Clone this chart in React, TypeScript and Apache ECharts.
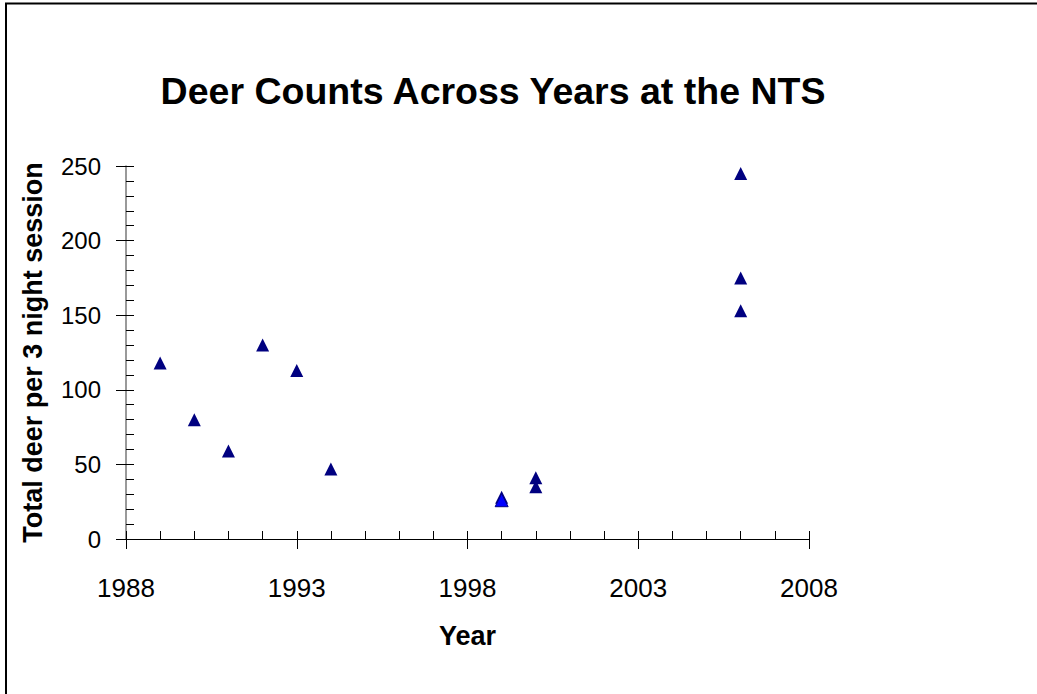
import React, { useEffect, useRef } from "react";
import * as echarts from "echarts";

const titleText = "Deer Counts Across Years at the NTS";
const xName = "Year";
const yName = "Total deer per 3 night session";

// main series (navy triangles)
const years = [1989, 1990, 1991, 1992, 1993, 1994, 1999, 2000, 2000, 2006, 2006, 2006];
const counts = [118, 80, 59, 130, 113, 47, 28, 41, 35, 245, 175, 153];

// second series (bright blue triangle)
const years2 = [1999];
const counts2 = [26];

const xMin = 1988;
const xMax = 2008;
const xStep = 5;
const yMin = 0;
const yMax = 250;
const yStep = 50;

const FONT = "'Liberation Sans', Arial, sans-serif";

export default function App() {
  const ref = useRef<HTMLDivElement>(null);
  useEffect(() => {
    if (!ref.current) return;
    const chart = echarts.init(ref.current, null, { renderer: "svg" });
    const grid = { left: 126, right: 228, top: 166, bottom: 155 };
    const option: any = {
      animation: false,
      backgroundColor: "#ffffff",
      textStyle: { fontFamily: FONT },
      title: {
        text: titleText,
        left: 488,
        top: 67,
        textAlign: "center",
        textStyle: { fontFamily: FONT, fontSize: 37.5, fontWeight: "bold", color: "#000" },
      },
      grid,
      xAxis: [
        {
          type: "value",
          min: xMin,
          max: xMax,
          interval: xStep,
          name: xName,
          nameLocation: "middle",
          nameGap: 83,
          nameTextStyle: { fontFamily: FONT, fontSize: 27, fontWeight: "bold", color: "#000" },
          axisLine: { show: true, onZero: false, lineStyle: { color: "#000", width: 1 } },
          axisTick: { show: true, inside: false, length: 10, lineStyle: { color: "#000" } },
          axisLabel: { fontFamily: FONT, fontSize: 26, color: "#000", margin: 36, formatter: (v: number) => String(v) },
          splitLine: { show: false },
        },
        {
          type: "value",
          min: xMin,
          max: xMax,
          interval: xStep,
          position: "bottom",
          axisLine: { show: false, onZero: false },
          axisTick: { show: true, inside: true, length: 8, lineStyle: { color: "#000" } },
          minorTick: { show: true, splitNumber: 5, length: 8, lineStyle: { color: "#000" } },
          axisLabel: { show: false },
          splitLine: { show: false },
        },
      ],
      yAxis: [
        {
          type: "value",
          min: yMin,
          max: yMax,
          interval: yStep,
          name: yName,
          nameLocation: "middle",
          nameGap: 80,
          nameTextStyle: { fontFamily: FONT, fontSize: 27, fontWeight: "bold", color: "#000" },
          axisLine: { show: true, onZero: false, lineStyle: { color: "#777", width: 1.5 } },
          axisTick: { show: true, inside: false, length: 10, lineStyle: { color: "#000" } },
          axisLabel: { fontFamily: FONT, fontSize: 24, color: "#000", margin: 25, formatter: (v: number) => String(v) },
          splitLine: { show: false },
        },
        {
          type: "value",
          min: yMin,
          max: yMax,
          interval: yStep,
          position: "left",
          axisLine: { show: false, onZero: false },
          axisTick: { show: true, inside: true, length: 8, lineStyle: { color: "#000" } },
          minorTick: { show: true, splitNumber: 5, length: 8, lineStyle: { color: "#000" } },
          axisLabel: { show: false },
          splitLine: { show: false },
        },
      ],
      series: [
        {
          type: "scatter",
          xAxisIndex: 0,
          yAxisIndex: 0,
          symbol: "triangle",
          symbolSize: [13, 13],
          itemStyle: { color: "#000080", opacity: 1 },
          data: years.map((y, i) => [y, counts[i]]),
        },
        {
          type: "scatter",
          xAxisIndex: 0,
          yAxisIndex: 0,
          symbol: "triangle",
          symbolSize: [13, 13],
          itemStyle: { color: "#0000ff", borderColor: "#000080", borderWidth: 1, opacity: 1 },
          data: years2.map((y, i) => [y, counts2[i]]),
        },
      ],
      graphic: [
        { type: "line", shape: { x1: 5, y1: 3.5, x2: 1037, y2: 3.5 }, style: { stroke: "#000", lineWidth: 2 } },
        { type: "line", shape: { x1: 6, y1: 3, x2: 6, y2: 694 }, style: { stroke: "#000", lineWidth: 2 } },
      ],
    };
    chart.setOption(option);
    return () => chart.dispose();
  }, []);
  return (
    <div
      ref={ref}
      style={{ position: "fixed", left: 0, top: 0, width: 1037, height: 694, background: "#fff" }}
    />
  );
}
